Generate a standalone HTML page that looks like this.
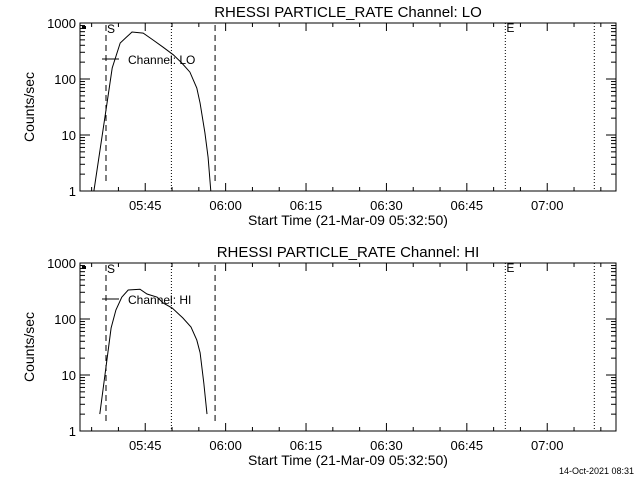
<!DOCTYPE html>
<html><head><meta charset="utf-8"><style>
html,body{margin:0;padding:0;background:#fff;width:640px;height:480px;overflow:hidden}
svg text{font-family:"Liberation Sans",sans-serif;fill:#000}
</style></head><body>
<svg id="c" width="640" height="480" xmlns="http://www.w3.org/2000/svg"></svg>
<script>
// time offsets in minutes from 05:32:50
const loTimes=[2.6,4.85,6.0,7.5,9.7,11.8,13.6,15.5,17.4,19.0,20.5,21.8,22.4,23.3,23.9,24.4];
const loValues=[1,28,157,440,690,660,500,370,270,193,133,69,37,11,4,1];
const hiTimes=[3.7,4.85,5.8,6.7,7.8,9.0,11.2,12.5,14.4,15.5,17.2,19.2,20.7,21.8,22.4,23.1,23.7];
const hiValues=[2.0,13.9,69,145,245,330,340,280,245,193,157,104,72,42,25,7.2,2.0];
const xTickLabels=["05:45","06:00","06:15","06:30","06:45","07:00"];
const xTickMinutes=[12.17,27.17,42.17,57.17,72.17,87.17];
const yTickLabels=["1","10","100","1000"];
const yTickValues=[1,10,100,1000];
const dashedTimes=[4.85,25.2];
const dottedTimes=[17.05,79.35,95.95];

const NS="http://www.w3.org/2000/svg";
const svg=document.getElementById('c');
function el(t,a,p){const e=document.createElementNS(NS,t);for(const k in a)e.setAttribute(k,a[k]);(p||svg).appendChild(e);return e;}
const X0=80,X1=616,TMAX=100;
function xs(t){return X0+t/TMAX*(X1-X0);}

function panel(top,name,times,values){
  const bot=top+168;
  const g=el('g',{});
  
  
  function ys(v){return bot-Math.log10(v)/3*168;}
  const t=el('text',{x:348,y:top-6,'font-size':'15','text-anchor':'middle'},g);
  t.textContent='RHESSI PARTICLE_RATE Channel: '+name;
  
  
  const r=el('rect',{x:X0,y:top,width:X1-X0,height:168,fill:'none',stroke:'#000','stroke-width':1},g);
  
  
  for(let d=0;d<3;d++)for(let m=1;m<10;m++){
    const v=Math.pow(10,d)*m;const y=ys(v);const L=m==1?10:5;
    el('line',{x1:X0,y1:y,x2:X0+L,y2:y,stroke:'#000'},g);
    el('line',{x1:X1,y1:y,x2:X1-L,y2:y,stroke:'#000'},g);
  }
  yTickLabels.forEach((s,i)=>{const tx=el('text',{x:X0-4,y:ys(yTickValues[i])+5,'font-size':'13','text-anchor':'end'},g);tx.textContent=s;
    
    });
  for(let m=2.17;m<TMAX;m+=5){
    const x=xs(m);const major=Math.abs(((m-12.17)/15)-Math.round((m-12.17)/15))<0.01;const L=major?8:4;
    el('line',{x1:x,y1:bot,x2:x,y2:bot-L,stroke:'#000'},g);
    el('line',{x1:x,y1:top,x2:x,y2:top+L,stroke:'#000'},g);
  }
  xTickLabels.forEach((s,i)=>{const tx=el('text',{x:xs(xTickMinutes[i]),y:bot+19,'font-size':'13','text-anchor':'middle'},g);tx.textContent=s;
    
    });
  const xl=el('text',{x:348,y:bot+34,'font-size':'14','text-anchor':'middle'},g);
  xl.textContent='Start Time (21-Mar-09 05:32:50)';
  
  
  const yl=el('text',{x:0,y:0,'font-size':'14','text-anchor':'middle',transform:`translate(34,${top+84}) rotate(-90)`},g);
  yl.textContent='Counts/sec';
  
  
  dashedTimes.forEach(tm=>{const l=el('line',{x1:xs(tm),y1:top+2,x2:xs(tm),y2:bot-7,stroke:'#000','stroke-dasharray':'6,4'},g);
    
    });
  dottedTimes.forEach(tm=>{const l=el('line',{x1:xs(tm),y1:top,x2:xs(tm),y2:bot,stroke:'#000','stroke-dasharray':'1,2'},g);
    
    });
  const sl=el('text',{x:xs(dashedTimes[0])+1,y:top+10,'font-size':'12'},g);sl.textContent='S';
  
  
  const elab=el('text',{x:xs(dottedTimes[1])+1,y:top+9,'font-size':'12'},g);elab.textContent='E';
  
  
  el('rect',{x:82,y:top+3,width:4,height:3,fill:'#000'},g);
  const pts=times.map((tm,i)=>xs(tm).toFixed(1)+','+ys(values[i]).toFixed(1)).join(' ');
  const pl=el('polyline',{points:pts,fill:'none',stroke:'#000','stroke-width':1},g);
  
  
  el('line',{x1:102,y1:top+36,x2:119,y2:top+36,stroke:'#000'},g);
  const lt=el('text',{x:128,y:top+41,'font-size':'12'},g);lt.textContent='Channel: '+name;
  
  
}
panel(23,'LO',loTimes,loValues);
panel(263,'HI',hiTimes,hiValues);
const f=el('text',{x:634,y:474,'font-size':'9','text-anchor':'end'});f.textContent='14-Oct-2021 08:31';


</script>
</body></html>
